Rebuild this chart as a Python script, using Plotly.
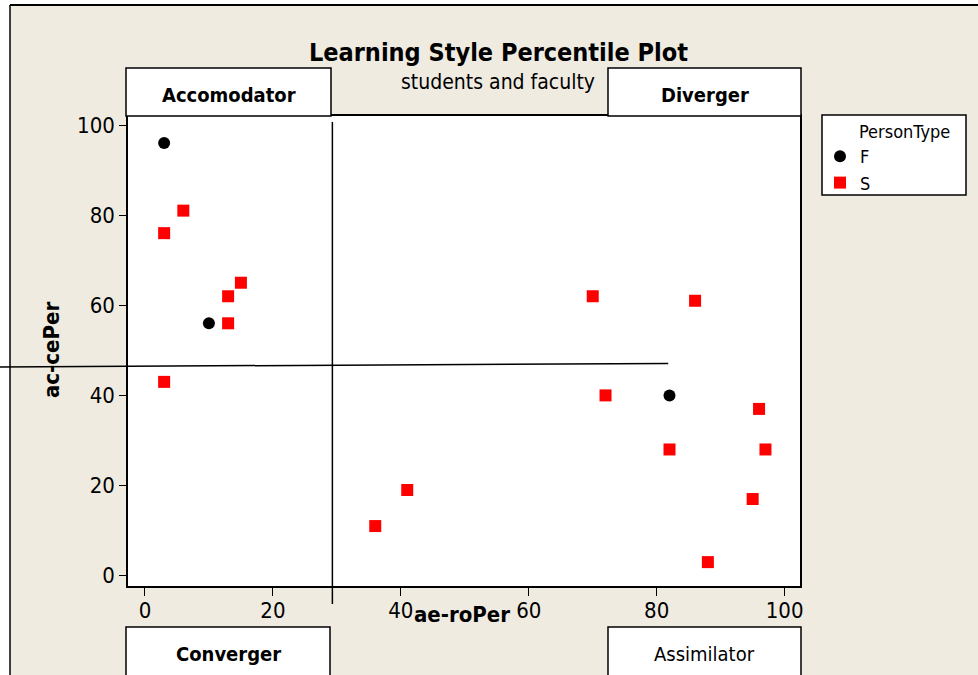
import plotly.graph_objects as go

# ---- data ----
f_x = [3, 10, 82]
f_y = [96, 56, 40]
s_x = [3, 6, 13, 15, 13, 3, 36, 41, 70, 72, 86, 82, 96, 97, 95, 88]
s_y = [76, 81, 62, 65, 56, 43, 11, 19, 62, 40, 61, 28, 37, 28, 17, 3]
x_ticks = [0, 20, 40, 60, 80, 100]
y_ticks = [0, 20, 40, 60, 80, 100]
x_divider = 29.3
y_divider_left, y_divider_right, y_divider_end_x = 46.3, 47.1, 81.8

W, H = 978, 675
L, R, T, B = 128, 800, 116, 586
XR = [-2.65, 102.4]
YR = [-2.3, 102.0]

def px(p):
    return (p - L) / (R - L)

def py(p):
    return (B - p) / (B - T)

def dx(v):
    return (v - XR[0]) / (XR[1] - XR[0])

def dy(v):
    return (v - YR[0]) / (YR[1] - YR[0])

BG = "#EFEBE1"
FONT = "DejaVu Sans Condensed"

fig = go.Figure()
fig.add_trace(go.Scatter(x=f_x, y=f_y, mode="markers", name="F",
                         marker=dict(symbol="circle", size=12, color="black")))
fig.add_trace(go.Scatter(x=s_x, y=s_y, mode="markers", name="S",
                         marker=dict(symbol="square", size=12, color="#FF0000")))

shapes = []
# white strips around outer frame
shapes.append(dict(type="rect", xref="paper", yref="paper", x0=px(0), x1=px(10), y0=py(H), y1=py(0),
                   fillcolor="white", line=dict(width=0), layer="below"))
shapes.append(dict(type="rect", xref="paper", yref="paper", x0=px(0), x1=px(W), y0=py(5), y1=py(0),
                   fillcolor="white", line=dict(width=0), layer="below"))
shapes.append(dict(type="line", xref="paper", yref="paper", x0=px(10), x1=px(10), y0=py(5), y1=py(H),
                   line=dict(color="black", width=1.5)))
shapes.append(dict(type="line", xref="paper", yref="paper", x0=px(10), x1=px(W), y0=py(5), y1=py(5),
                   line=dict(color="black", width=2)))
# divider lines
shapes.append(dict(type="line", xref="paper", yref="paper", x0=dx(x_divider), x1=dx(x_divider),
                   y0=py(604), y1=py(122), line=dict(color="black", width=1.5)))
shapes.append(dict(type="line", xref="paper", yref="paper", x0=px(0), x1=dx(y_divider_end_x),
                   y0=dy(y_divider_left), y1=dy(y_divider_right), line=dict(color="black", width=1.5)))
# legend box
shapes.append(dict(type="rect", xref="paper", yref="paper", x0=px(822), x1=px(966), y0=py(195), y1=py(115),
                   fillcolor="white", line=dict(color="black", width=1.5), layer="below"))

annotations = []
boxes = [
    ("Accomodator", 126, 331, 68, 116, True),
    ("Diverger", 608, 801, 68, 116, True),
    ("Converger", 126, 330, 627, 690, True),
    ("Assimilator", 608, 801, 627, 690, False),
]
for text, x0, x1, y0, y1, bold in boxes:
    shapes.append(dict(type="rect", xref="paper", yref="paper", x0=px(x0), x1=px(x1), y0=py(y1), y1=py(y0),
                       fillcolor="white", line=dict(color="black", width=1.5)))
    annotations.append(dict(text=("<b>%s</b>" % text) if bold else text, xref="paper", yref="paper",
                            x=px((x0 + x1) / 2), y=py(95 if y0 < 300 else 654), showarrow=False,
                            xanchor="center", yanchor="middle", font=dict(family=FONT, size=20, color="black")))

annotations.append(dict(text="<b>Learning Style Percentile Plot</b>", xref="paper", yref="paper",
                        x=px(498), y=py(52), showarrow=False, xanchor="center", yanchor="middle",
                        font=dict(family=FONT, size=25, color="black")))
annotations.append(dict(text="students and faculty", xref="paper", yref="paper",
                        x=px(498), y=py(82), showarrow=False, xanchor="center", yanchor="middle",
                        font=dict(family=FONT, size=21, color="black")))
annotations.append(dict(text="<b>ae-roPer</b>", xref="paper", yref="paper",
                        x=px(462), y=py(614), showarrow=False, xanchor="center", yanchor="middle",
                        font=dict(family=FONT, size=22, color="black")))
annotations.append(dict(text="<b>ac-cePer</b>", xref="paper", yref="paper",
                        x=px(51), y=py(350), showarrow=False, xanchor="center", yanchor="middle",
                        textangle=-90, font=dict(family=FONT, size=22, color="black")))
annotations.append(dict(text="PersonType", xref="paper", yref="paper",
                        x=px(857), y=py(131), showarrow=False, xanchor="left", yanchor="middle",
                        font=dict(family=FONT, size=18, color="black")))

fig.update_layout(
    width=W, height=H,
    margin=dict(l=L, r=W - R, t=T, b=H - B),
    paper_bgcolor=BG, plot_bgcolor="white",
    shapes=shapes, annotations=annotations,
    showlegend=True,
    legend=dict(x=px(820), y=py(138), xanchor="left", yanchor="top",
                bgcolor="rgba(0,0,0,0)", borderwidth=0,
                font=dict(family=FONT, size=18, color="black"),
                itemsizing="constant", tracegroupgap=0),
    xaxis=dict(range=XR, tickvals=x_ticks, ticks="outside", ticklen=8, tickcolor="black",
               showgrid=False, zeroline=False, showline=True, linecolor="black", linewidth=1.5,
               mirror=True, ticklabelstandoff=-4,
               tickfont=dict(family=FONT, size=22, color="black")),
    yaxis=dict(range=YR, tickvals=y_ticks, ticks="outside", ticklen=7, tickcolor="black",
               showgrid=False, zeroline=False, showline=True, linecolor="black", linewidth=1.5,
               mirror=True, tickfont=dict(family=FONT, size=22, color="black")),
)

fig.write_html("out.html", config={"displayModeBar": False},
               post_script="document.body.style.margin='0';document.body.style.padding='0';")
